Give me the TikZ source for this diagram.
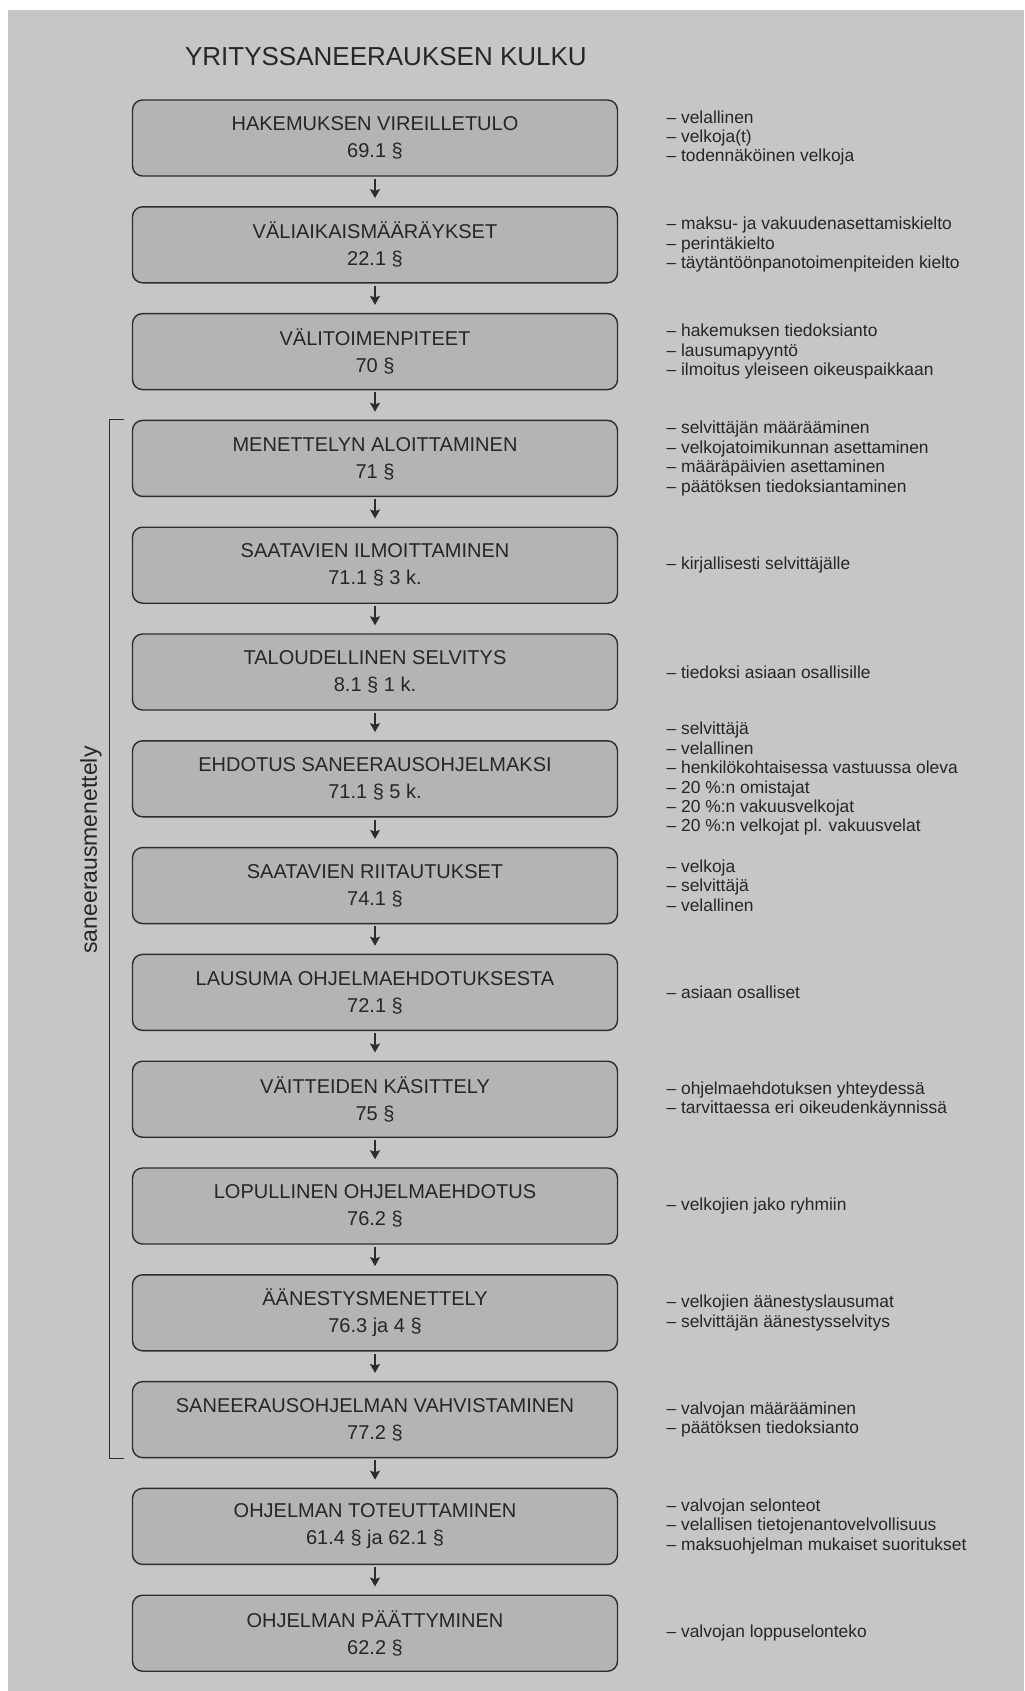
\documentclass[tikz,border=0pt]{standalone}
\usepackage{fontspec}
\setmainfont{Liberation Sans}
\usepackage{tikz}
\usepackage{xcolor}
\usetikzlibrary{arrows.meta, positioning}
\definecolor{cPaper}{RGB}{198,198,198}
\definecolor{cBox}{RGB}{180,180,180}
\definecolor{cEdge}{RGB}{45,45,45}
\definecolor{cInk}{RGB}{38,38,38}
\tikzset{
	stage/.style     ={rectangle, rounded corners=5pt, draw=cEdge, line width=0.7pt, fill=cBox, minimum width=242.5pt, minimum height=38pt, align=center, text=cInk, font=\fontsize{10}{13.5}\selectfont},
	note/.style      ={align=left, inner sep=0pt, text=cInk, font=\fontsize{8.7}{9.7}\selectfont},
	stagearrow/.style={-{Stealth[length=4.5pt, width=5pt, inset=0.8pt]}, line width=0.7pt, cEdge, shorten >=4pt, shorten <=1pt},
	% bracket for the restructuring phase
	phase/.style     ={line width=0.7pt, cEdge},
}

\begin{document}
\begin{tikzpicture}[x=0.5pt, y=-0.5pt, node distance=14.7pt]
	\useasboundingbox (0,0) rectangle (1024,1691);
	\fill[white] (0,0) rectangle (1024,1691);
	\fill[cPaper] (8,10) rectangle (1024,1691);
	\node[anchor=base west, text=cInk, font=\fontsize{13}{15}\selectfont] (otsikko) at (178,66) {YRITYSSANEERAUKSEN KULKU};

	% stages
	\node[stage] (s1) at (375,138) {HAKEMUKSEN VIREILLETULO\\69.1 §};
	\node[stage, below=of s1] (s2) {VÄLIAIKAISMÄÄRÄYKSET\\22.1 §};
	\node[stage, below=of s2] (s3) {VÄLITOIMENPITEET\\70 §};
	\node[stage, below=of s3] (s4) {MENETTELYN ALOITTAMINEN\\71 §};
	\node[stage, below=of s4] (s5) {SAATAVIEN ILMOITTAMINEN\\71.1 § 3 k.};
	\node[stage, below=of s5] (s6) {TALOUDELLINEN SELVITYS\\8.1 § 1 k.};
	\node[stage, below=of s6] (s7) {EHDOTUS SANEERAUSOHJELMAKSI\\71.1 § 5 k.};
	\node[stage, below=of s7] (s8) {SAATAVIEN RIITAUTUKSET\\74.1 §};
	\node[stage, below=of s8] (s9) {LAUSUMA OHJELMAEHDOTUKSESTA\\72.1 §};
	\node[stage, below=of s9] (s10) {VÄITTEIDEN KÄSITTELY\\75 §};
	\node[stage, below=of s10] (s11) {LOPULLINEN OHJELMAEHDOTUS\\76.2 §};
	\node[stage, below=of s11] (s12) {ÄÄNESTYSMENETTELY\\76.3 ja 4 §};
	\node[stage, below=of s12] (s13) {SANEERAUSOHJELMAN VAHVISTAMINEN\\77.2 §};
	\node[stage, below=of s13] (s14) {OHJELMAN TOTEUTTAMINEN\\61.4 § ja 62.1 §};
	\node[stage, below=of s14] (s15) {OHJELMAN PÄÄTTYMINEN\\62.2 §};

	% side notes
	\node[note, right=24pt of s1] (t1) {– velallinen\\– velkoja(t)\\– todennäköinen velkoja};
	\node[note, right=24pt of s2] (t2) {– maksu- ja vakuudenasettamiskielto\\– perintäkielto\\– täytäntöönpanotoimenpiteiden kielto};
	\node[note, right=24pt of s3] (t3) {– hakemuksen tiedoksianto\\– lausumapyyntö\\– ilmoitus yleiseen oikeuspaikkaan};
	\node[note, right=24pt of s4] (t4) {– selvittäjän määrääminen\\– velkojatoimikunnan asettaminen\\– määräpäivien asettaminen\\– päätöksen tiedoksiantaminen};
	\node[note, right=24pt of s5] (t5) {– kirjallisesti selvittäjälle};
	\node[note, right=24pt of s6] (t6) {– tiedoksi asiaan osallisille};
	\node[note, right=24pt of s7] (t7) {– selvittäjä\\– velallinen\\– henkilökohtaisessa vastuussa oleva\\– 20 \%:n omistajat\\– 20 \%:n vakuusvelkojat\\– 20 \%:n velkojat pl. vakuusvelat};
	\node[note, right=24pt of s8] (t8) {– velkoja\\– selvittäjä\\– velallinen};
	\node[note, right=24pt of s9] (t9) {– asiaan osalliset};
	\node[note, right=24pt of s10] (t10) {– ohjelmaehdotuksen yhteydessä\\– tarvittaessa eri oikeudenkäynnissä};
	\node[note, right=24pt of s11] (t11) {– velkojien jako ryhmiin};
	\node[note, right=24pt of s12] (t12) {– velkojien äänestyslausumat\\– selvittäjän äänestysselvitys};
	\node[note, right=24pt of s13] (t13) {– valvojan määrääminen\\– päätöksen tiedoksianto};
	\node[note, right=24pt of s14] (t14) {– valvojan selonteot\\– velallisen tietojenantovelvollisuus\\– maksuohjelman mukaiset suoritukset};
	\node[note, right=24pt of s15] (t15) {– valvojan loppuselonteko};

	\foreach \i [count=\j from 2] in {1,...,14}
		\draw[stagearrow] (s\i) -- (s\j);

	% saneerausmenettely bracket
	\coordinate (brtop) at ([xshift=-3.75pt]s4.north west);
	\coordinate (brbot) at ([xshift=-3.75pt]s13.south west);
	\draw[phase] (brtop) -- ++(-7.5pt,0) |- (brbot);
	\node[rotate=90, text=cInk, font=\fontsize{11.5}{13}\selectfont] (vaihe) at (91,850) {saneerausmenettely};
\end{tikzpicture}
\end{document}
